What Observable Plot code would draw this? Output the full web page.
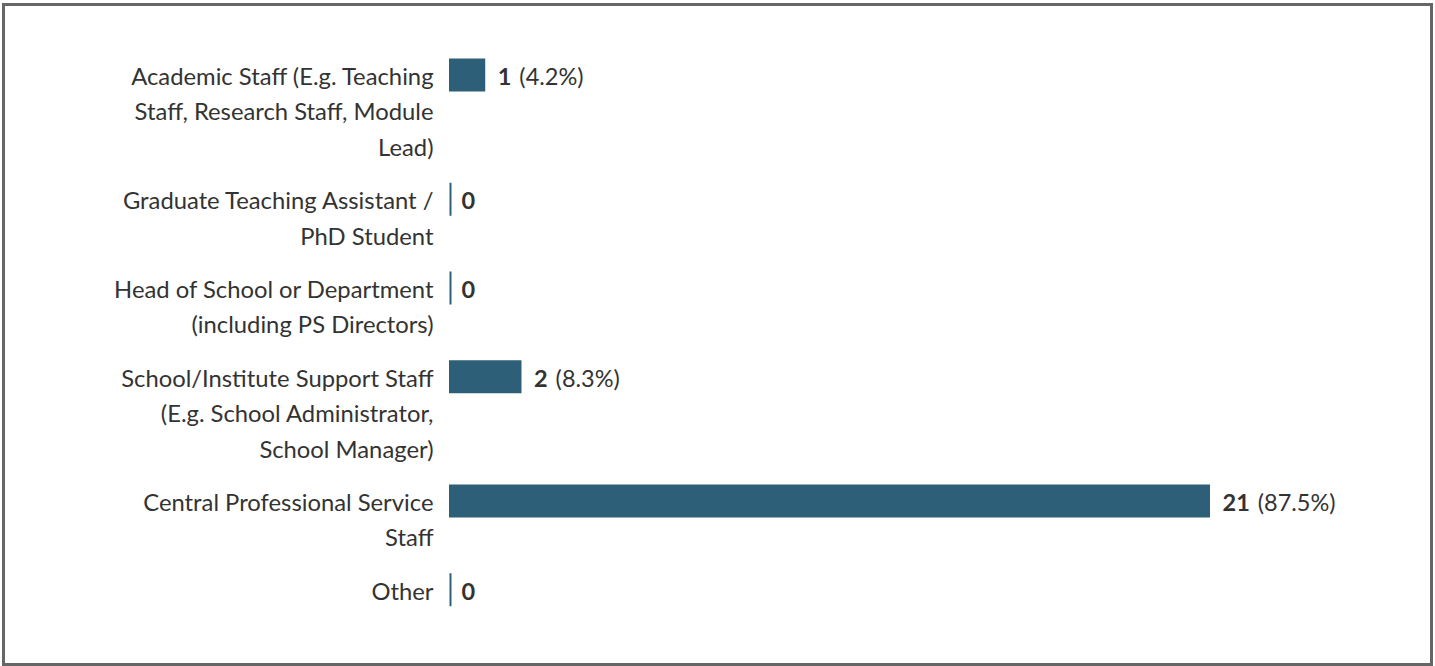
<!DOCTYPE html>
<html>
<head>
<meta charset="utf-8">
<script src="https://cdn.jsdelivr.net/npm/d3@7"></script>
<script src="https://cdn.jsdelivr.net/npm/@observablehq/plot@0.6"></script>
<style>
  html, body { margin: 0; padding: 0; background: #fff; }
  #wrap { position: relative; width: 1435px; height: 666px; overflow: hidden; }
  #frame { position: absolute; left: 2px; top: 3px; width: 1431px; height: 663px; box-sizing: border-box; border: 3px solid #666; pointer-events: none; }
  #chart { position: absolute; left: 0; top: 0; }
</style>
</head>
<body>
<div id="wrap"><div id="chart"></div><div id="frame"></div></div>
<script>
// ---- data ----
const categories = [
  "Academic Staff (E.g. Teaching\nStaff, Research Staff, Module\nLead)",
  "Graduate Teaching Assistant /\nPhD Student",
  "Head of School or Department\n(including PS Directors)",
  "School/Institute Support Staff\n(E.g. School Administrator,\nSchool Manager)",
  "Central Professional Service\nStaff",
  "Other"
];
const counts = [1, 0, 0, 2, 21, 0];
const percentLabels = ["(4.2%)", "", "", "(8.3%)", "(87.5%)", ""];

// ---- layout ----
const W = 1435, H = 666;
const FS = 23.8;        // label font size px
const VFS = 23.5;       // value font size px
const LINE = 35.5;      // px per label line
const GAP = 0.5;        // gap between rows, in lines
const BAR = 33;         // bar thickness px
const FONT = "Lato, 'Noto Sans', sans-serif";
const BAR_COLOR = "#2d6078";
const TEXT_COLOR = "#333";

let acc = 0;
const rows = categories.map((c, i) => {
  const lines = c.split("\n").length;
  const r = {label: c, count: counts[i], pct: percentLabels[i], pos: acc};
  acc += lines + GAP;
  return r;
});
const lastPos = rows[rows.length - 1].pos;
const marginTop = 75;
const marginBottom = H - (marginTop + lastPos * LINE);
const half = BAR / 2 / LINE;
const lh = LINE / FS;
const baseOff = 9.3; // baseline below row centre, px

const ctx = document.createElement("canvas").getContext("2d");
ctx.font = `bold ${VFS}px Lato`;

const pctMarks = rows.filter(r => r.count > 0).map(r => {
  const w = ctx.measureText(String(r.count)).width;
  return Plot.text([r], {
    x: "count", y: "pos", text: "pct",
    textAnchor: "start", dx: 12 + w + 8, dy: baseOff - 0.32 * VFS,
    fontSize: VFS, fill: TEXT_COLOR
  });
});

const chart = Plot.plot({
  width: W,
  height: H,
  marginLeft: 449,
  marginRight: 225,
  marginTop,
  marginBottom,
  style: {fontFamily: FONT, background: "transparent"},
  x: {domain: [0, d3.max(counts)], axis: null},
  y: {domain: [0, lastPos], reverse: true, axis: null},
  marks: [
    Plot.rect(rows.filter(r => r.count > 0), {
      x1: 0, x2: "count",
      y1: d => d.pos - half, y2: d => d.pos + half,
      fill: BAR_COLOR
    }),
    Plot.ruleX(rows.filter(r => r.count === 0), {
      x: 0, y1: d => d.pos - half, y2: d => d.pos + half,
      stroke: BAR_COLOR, strokeWidth: 2, dx: 1
    }),
    Plot.text(rows, {
      x: 0, y: "pos", text: "label",
      textAnchor: "end", lineAnchor: "top", lineHeight: lh,
      dx: -16, dy: baseOff - 0.71 * lh * FS,
      fontSize: FS, fill: TEXT_COLOR
    }),
    Plot.text(rows, {
      x: "count", y: "pos", text: d => String(d.count),
      textAnchor: "start", dx: 12, dy: baseOff - 0.32 * VFS,
      fontSize: VFS, fontWeight: "bold", fill: TEXT_COLOR
    }),
    ...pctMarks
  ]
});
document.getElementById("chart").appendChild(chart);
</script>
</body>
</html>
